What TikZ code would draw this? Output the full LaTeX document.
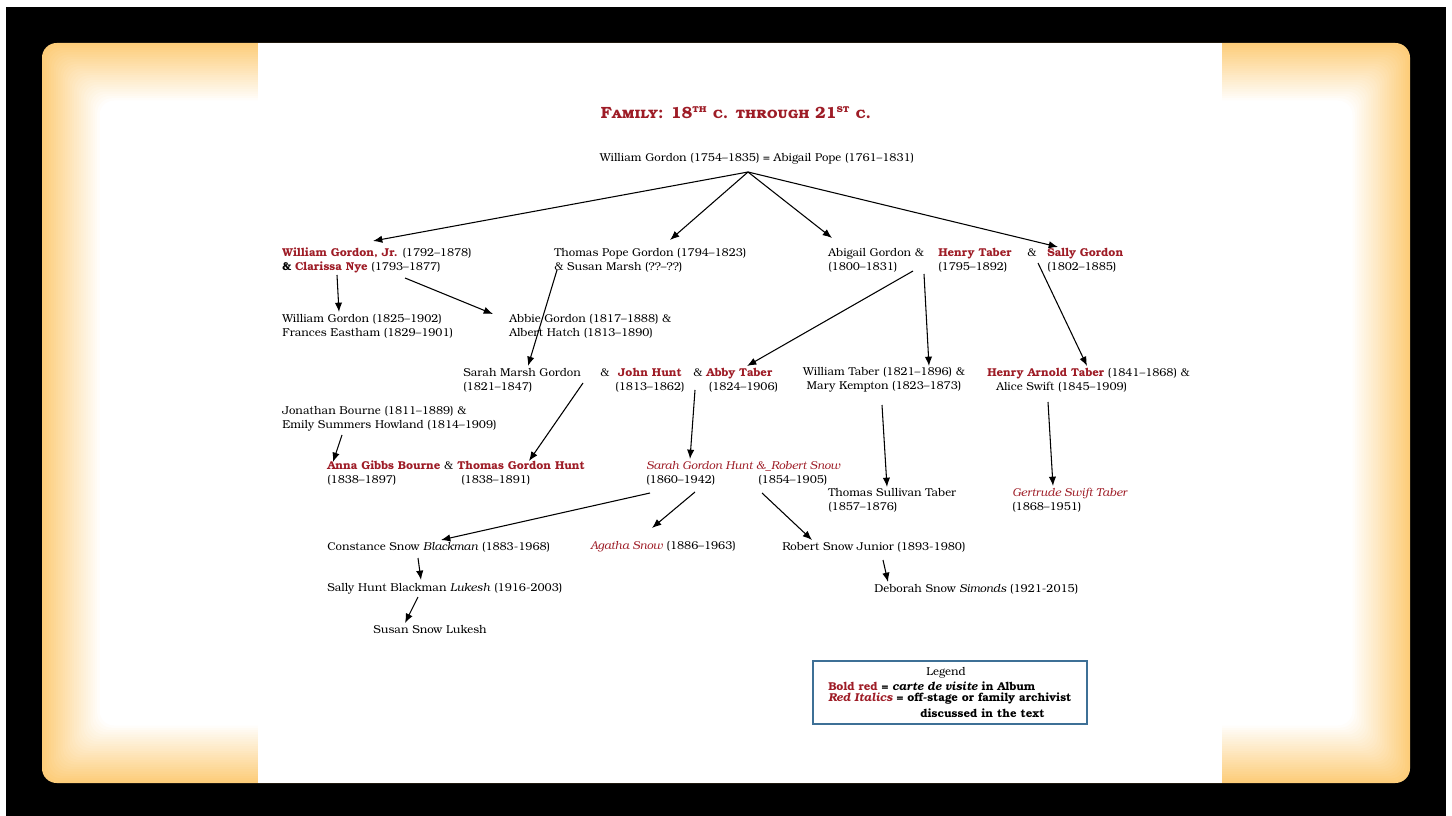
\documentclass[tikz,border=0pt]{standalone}
\usepackage{fontspec}
\setmainfont{TeX Gyre Bonum}
\usepackage{tikz}
\usetikzlibrary{positioning, calc, arrows.meta}

\definecolor{famred}{RGB}{158,28,38}
\definecolor{panelorange}{RGB}{253,205,122}
\definecolor{legendblue}{RGB}{62,112,150}

\newcommand{\rb}[1]{\textcolor{famred}{\textbf{#1}}}
\newcommand{\ri}[1]{\textcolor{famred}{\textit{#1}}}

\begin{document}
\begin{tikzpicture}[x=0.75pt, y=-0.75pt,
	person/.style={anchor=west, inner sep=0pt, align=left, font=\fontsize{8.55}{10.5}\selectfont},
	link/.style={-{Latex[length=7pt, width=5.5pt]}, line width=0.8pt}]

	%Frame
	\useasboundingbox (0,0) rectangle (1452,816);
	\fill[white] (0,0) rectangle (1452,816);
	\fill[black] (6,7) rectangle (1446,816);
	\foreach \i [evaluate=\i as \pct using int(100-4*\i)] in {0,...,25}
		\fill[panelorange!\pct!white, rounded corners=11pt] (42+2.3*\i,43+2.3*\i) rectangle (1410-2.3*\i,783-2.3*\i);
	\fill[white] (258,43) rectangle (1222,783);

	%Nodes
	\node (title) at (736,113) [inner sep=0pt, text=famred, font=\bfseries\fontsize{12.2}{13}\selectfont]
		{F\textsc{amily}: 18\textsuperscript{\textsc{th}} \textsc{c. through} 21\textsuperscript{\textsc{st}} \textsc{c.}};

	\node (root) at (757,159) [person, anchor=center] {William Gordon (1754--1835) = Abigail Pope (1761--1831)};

	\node (wgj) at (282,260) [person] {\rb{William Gordon, Jr.} (1792--1878)\\\textbf{\&} \rb{Clarissa Nye} (1793--1877)};
	\node (tpg) at (554,260) [person] {Thomas Pope Gordon (1794--1823)\\\& Susan Marsh (??--??)};
	\node (abig) at (828,260) [person] {Abigail Gordon \&\\(1800--1831)};
	\node (henry) at (938,260) [person] {\rb{Henry Taber}\\(1795--1892)};
	\node (ampA) at (1027,253) [person] {\&};
	\node (sally) at (1047,260) [person] {\rb{Sally Gordon}\\(1802--1885)};

	\node (wg25) at (282,326) [person] {William Gordon (1825--1902)\\Frances Eastham (1829--1901)};
	\node (abbie) at (509,326) [person] {Abbie Gordon (1817--1888) \&\\Albert Hatch (1813--1890)};

	\node (sarah) at (463,380) [person] {Sarah Marsh Gordon\\(1821--1847)};
	\node (ampB) at (600,373) [person] {\&};
	\node (john) at (650,380) [person, anchor=center, align=center] {\rb{John Hunt}\\(1813--1862)};
	\node (ampC) at (693,373) [person] {\&};
	\node (abby) at (706,380) [person] {\rb{Abby Taber}\\\hspace*{2pt}(1824--1906)};
	\node (wt) at (884,380) [person, anchor=center, align=center] {William Taber (1821--1896) \&\\Mary Kempton (1823--1873)};
	\node (hat) at (987,380) [person] {\rb{Henry Arnold Taber} (1841--1868) \&\\\hspace*{6.75pt}Alice Swift (1845--1909)};

	\node (jb) at (282,419) [person] {Jonathan Bourne (1811--1889) \&\\Emily Summers Howland (1814--1909)};
	\node (anna) at (327,473) [person] {\rb{Anna Gibbs Bourne} \&\\(1838--1897)};
	\node (tgh) at (457,473) [person] {\rb{Thomas Gordon Hunt}\\\hspace*{3pt}(1838--1891)};
	\node (sgh) at (646,473) [person] {\ri{Sarah Gordon Hunt \&\_Robert Snow}\\\makebox[84pt][l]{(1860--1942)}(1854--1905)};
	\node (tst) at (828,500) [person] {Thomas Sullivan Taber\\(1857--1876)};
	\node (gst) at (1012,500) [person] {\ri{Gertrude Swift Taber}\\(1868--1951)};

	\node (csb) at (327,547) [person] {Constance Snow \textit{Blackman} (1883-1968)};
	\node (agatha) at (590,547) [person] {\ri{Agatha Snow} (1886--1963)};
	\node (rsj) at (782,547) [person] {Robert Snow Junior (1893-1980)};
	\node (shbl) at (327,589) [person] {Sally Hunt Blackman \textit{Lukesh} (1916-2003)};
	\node (dss) at (874,589) [person] {Deborah Snow \textit{Simonds} (1921-2015)};
	\node (ssl) at (373,629) [person] {Susan Snow Lukesh};

	%Legend
	\node (legend) at (950,692.5) [draw=legendblue, line width=1.1pt, minimum width=205.5pt, minimum height=47.25pt] {};
	\node (legTitle) at (946,673) [person, anchor=center] {Legend};
	\node (legA) at (828,686) [person, font=\bfseries\fontsize{8.55}{10.5}\selectfont] {\rb{Bold red} = \textit{carte de visite} in Album};
	\node (legB) at (828,699) [person, font=\bfseries\fontsize{8.55}{10.5}\selectfont] {\textcolor{famred}{\textit{Red Italics}} = off-stage or family archivist};
	\node (legC) at (920,713) [person, font=\bfseries\fontsize{8.55}{10.5}\selectfont] {discussed in the text};

	%Links
	\draw [link] ($(root.center)+(-9,13)$) -- ($(wgj.west)+(91,-19)$);
	\draw [link] ($(root.center)+(-9,13)$) -- ($(tpg.west)+(116,-20)$);
	\draw [link] ($(root.center)+(-9,13)$) -- ($(abig.west)+(4,-22)$);
	\draw [link] ($(root.center)+(-9,13)$) -- ($(sally.west)+(11,-13)$);
	\draw [link] ($(wgj.west)+(55,15)$) -- ($(wg25.west)+(57,-14)$);
	\draw [link] ($(wgj.west)+(123,18)$) -- ($(abbie.west)+(-16,-12)$);
	\draw [link] ($(tpg.west)+(3,10)$) -- ($(sarah.west)+(65,-14)$);
	\draw [link] ($(henry.west)+(-25,11)$) -- ($(abby.west)+(41,-14)$);
	\draw [link] ($(henry.west)+(-14,14)$) -- ($(wt.center)+(45,-14)$);
	\draw [link] ($(sally.west)+(-9,3)$) -- ($(hat.west)+(100,-14)$);
	\draw [link] ($(jb.west)+(60,16)$) -- ($(anna.west)+(6,-11)$);
	\draw [link] ($(john.center)+(-67,3)$) -- ($(tgh.west)+(72,-12)$);
	\draw [link] ($(abby.west)+(-11,10)$) -- ($(sgh.west)+(44,-14)$);
	\draw [link] ($(wt.center)+(-2,25)$) -- ($(tst.west)+(59,-13)$);
	\draw [link] ($(hat.west)+(61,22)$) -- ($(gst.west)+(41,-14)$);
	\draw [link] ($(sgh.west)+(4,20)$) -- ($(csb.west)+(114,-7)$);
	\draw [link] ($(sgh.west)+(49,19)$) -- ($(agatha.west)+(62,-19)$);
	\draw [link] ($(sgh.west)+(116,20)$) -- ($(rsj.west)+(30,-7)$);
	\draw [link] ($(csb.west)+(91,11)$) -- ($(shbl.west)+(94,-9)$);
	\draw [link] ($(rsj.west)+(101,13)$) -- ($(dss.west)+(14,-7)$);
	\draw [link] ($(shbl.west)+(91,8)$) -- ($(ssl.west)+(32,-6)$);

\end{tikzpicture}
\end{document}
